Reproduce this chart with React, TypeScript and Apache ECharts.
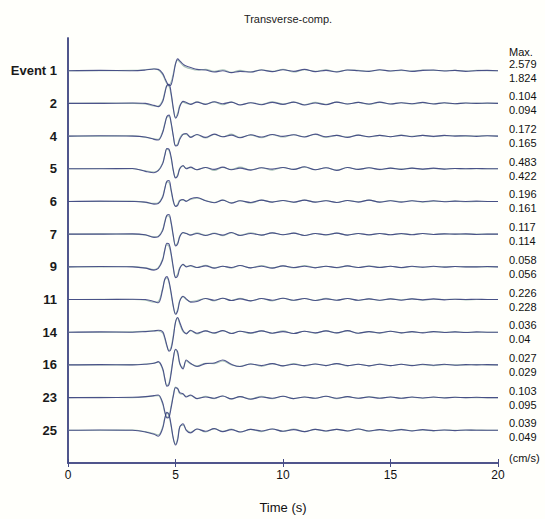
import React, { useEffect, useRef } from "react";
import * as echarts from "echarts";

// time samples (s)
const T = [0, 1.5, 3, 3.6, 4.0, 4.2, 4.4, 4.5, 4.6, 4.7, 4.8, 4.9, 5.0, 5.1, 5.2, 5.35, 5.5, 5.7, 6.0, 6.4, 6.8, 7.2, 7.6, 8.0, 8.5, 9.0, 9.5, 10, 10.5, 11, 11.5, 12, 12.5, 13, 13.5, 14, 14.5, 15, 15.5, 16, 16.5, 17, 17.5, 18, 18.5, 19, 19.5, 20];

const eventLabels = ["Event 1", "2", "4", "5", "6", "7", "9", "11", "14", "16", "23", "25"];
const maxObs = ["2.579", "0.104", "0.172", "0.483", "0.196", "0.117", "0.058", "0.226", "0.036", "0.027", "0.103", "0.039"];
const maxSyn = ["1.824", "0.094", "0.165", "0.422", "0.161", "0.114", "0.056", "0.228", "0.04", "0.029", "0.095", "0.049"];
const xTicks = [0, 5, 10, 15, 20];

// normalized observed traces (1 = trace spacing)
const obs1 = [0, 0.01, 0, 0.02, 0.05, 0.04, -0.08, -0.22, -0.36, -0.46, -0.42, -0.15, 0.2, 0.36, 0.3, 0.2, 0.14, 0.1, 0.04, 0.02, -0.04, 0.0, -0.06, -0.02, -0.04, 0.02, -0.03, 0.03, -0.02, 0.04, -0.03, 0.01, -0.04, 0.02, 0.0, -0.02, 0.03, -0.01, 0.02, -0.02, 0.01, 0.02, -0.01, 0.01, -0.02, 0.0, 0.01, 0.0];
const obs2 = [0, 0, 0.01, 0, -0.06, -0.1, 0.05, 0.3, 0.55, 0.58, 0.3, -0.15, -0.45, -0.36, -0.1, 0.06, 0.03, -0.03, 0.04, -0.03, 0.05, -0.01, 0.04, -0.05, 0.02, -0.04, 0.03, -0.03, 0.04, -0.05, 0.01, -0.04, 0.04, -0.02, 0.03, -0.02, 0.04, -0.02, 0.02, -0.01, 0.03, -0.02, 0.02, -0.01, 0.01, 0.0, 0.01, 0];
const obs4 = [0, 0.01, 0, -0.03, -0.1, -0.12, 0.1, 0.35, 0.6, 0.64, 0.4, 0.0, -0.3, -0.28, -0.1, 0.05, 0.08, -0.04, 0.05, -0.04, 0.06, -0.02, 0.03, -0.05, 0.04, -0.03, 0.05, -0.01, 0.04, -0.03, 0.06, -0.02, 0.02, -0.04, 0.03, -0.02, 0.02, -0.02, 0.02, -0.02, 0.02, -0.01, 0.02, 0.0, 0.01, -0.01, 0.01, 0];
const obs5 = [0, 0, 0.01, -0.08, -0.12, -0.06, 0.15, 0.4, 0.62, 0.6, 0.35, -0.05, -0.28, -0.22, 0.0, 0.1, 0.0, 0.05, -0.03, 0.04, -0.02, 0.05, -0.03, 0.02, -0.04, 0.03, -0.01, 0.04, -0.02, 0.06, -0.03, 0.03, -0.05, 0.04, -0.02, 0.03, -0.02, 0.02, -0.02, 0.02, -0.01, 0.02, -0.01, 0.01, 0.0, 0.01, 0, 0];
const obs6 = [0, 0.01, 0.0, -0.02, -0.08, -0.06, 0.12, 0.38, 0.62, 0.64, 0.35, 0.02, -0.15, -0.12, 0.02, 0.06, 0.0, 0.08, 0.12, 0.02, -0.04, 0.04, -0.05, 0.02, -0.03, 0.04, -0.02, 0.03, -0.02, 0.04, -0.02, 0.02, -0.03, 0.03, -0.02, 0.04, -0.02, 0.02, -0.02, 0.02, -0.01, 0.02, -0.01, 0.01, 0.0, 0.01, 0, 0];
const obs7 = [0, 0, 0.01, -0.02, -0.1, -0.08, 0.1, 0.35, 0.58, 0.6, 0.35, -0.05, -0.36, -0.3, -0.08, 0.05, 0.02, -0.03, 0.02, -0.04, 0.02, -0.03, 0.05, -0.04, 0.02, -0.03, 0.04, -0.02, 0.03, -0.04, 0.02, -0.02, 0.03, -0.03, 0.02, -0.02, 0.02, -0.02, 0.02, -0.02, 0.02, -0.01, 0.01, 0, 0.01, -0.01, 0, 0];
const obs9 = [0, 0.01, 0, -0.04, -0.1, -0.05, 0.2, 0.5, 0.72, 0.7, 0.4, -0.02, -0.33, -0.28, -0.05, 0.08, 0.0, 0.04, -0.02, 0.03, -0.04, 0.02, -0.02, 0.04, -0.03, 0.02, -0.04, 0.03, -0.02, 0.02, -0.03, 0.02, -0.02, 0.03, -0.02, 0.02, -0.02, 0.02, -0.02, 0.02, -0.01, 0.02, -0.01, 0.01, 0, 0, 0.01, 0];
const obs11 = [0, 0, 0.01, 0.0, -0.06, -0.1, 0.3, 0.62, 0.7, 0.55, 0.2, -0.2, -0.45, -0.35, -0.05, 0.1, 0.02, -0.08, -0.06, 0.03, -0.02, 0.04, -0.03, 0.02, -0.04, 0.03, -0.02, 0.04, -0.02, 0.03, -0.03, 0.02, -0.02, 0.03, -0.02, 0.02, -0.02, 0.02, -0.02, 0.02, -0.01, 0.02, -0.01, 0.01, 0, 0.01, 0, 0];
const obs14 = [0, 0.01, 0, 0.02, 0.04, 0.06, 0.02, -0.15, -0.4, -0.58, -0.5, -0.15, 0.3, 0.45, 0.3, 0.05, -0.05, 0.06, -0.03, 0.04, -0.02, 0.05, -0.04, 0.03, -0.02, 0.04, -0.03, 0.02, -0.04, 0.03, -0.02, 0.04, -0.02, 0.05, -0.03, 0.02, -0.02, 0.03, -0.02, 0.02, -0.02, 0.02, -0.01, 0.01, -0.01, 0.01, 0, 0];
const obs16 = [0, 0.01, 0, 0.02, 0.05, 0.1, -0.1, -0.4, -0.65, -0.6, -0.25, 0.2, 0.48, 0.4, 0.05, -0.12, 0.15, 0.05, -0.05, 0.04, 0.06, 0.15, 0.02, -0.05, 0.03, -0.02, 0.04, -0.03, 0.02, -0.02, 0.03, -0.02, 0.04, -0.02, 0.02, -0.03, 0.02, -0.02, 0.02, -0.02, 0.02, -0.01, 0.02, -0.01, 0.01, 0, 0.01, 0];
const obs23 = [0, 0, 0.01, 0.03, 0.06, 0.08, -0.15, -0.42, -0.62, -0.6, -0.3, 0.05, 0.3, 0.28, 0.15, 0.12, 0.02, 0.08, -0.03, 0.02, -0.02, 0.05, -0.04, 0.03, -0.05, 0.02, -0.02, 0.04, -0.03, 0.02, -0.02, 0.04, -0.02, 0.03, -0.02, 0.02, -0.02, 0.02, -0.02, 0.02, -0.01, 0.02, -0.01, 0.01, 0, 0.01, 0, 0];
const obs25 = [0, 0.01, 0, -0.05, -0.12, -0.18, 0.05, 0.35, 0.55, 0.48, 0.15, -0.25, -0.45, -0.3, 0.1, 0.2, 0.0, -0.08, 0.04, -0.03, 0.05, -0.04, 0.02, -0.05, 0.03, -0.02, 0.04, -0.03, 0.02, -0.04, 0.03, -0.02, 0.03, -0.02, 0.04, -0.02, 0.02, -0.02, 0.02, -0.02, 0.02, -0.01, 0.01, -0.01, 0.01, 0, 0, 0];

// normalized synthetic traces
const syn1 = [0, 0, 0.01, 0.03, 0.06, 0.02, -0.12, -0.26, -0.4, -0.44, -0.34, -0.08, 0.22, 0.32, 0.26, 0.16, 0.1, 0.06, 0.02, 0.04, -0.02, 0.03, -0.05, 0.01, -0.04, 0.03, -0.02, 0.04, -0.04, 0.03, -0.02, 0.03, -0.03, 0.02, 0.01, -0.02, 0.02, -0.01, 0.01, -0.01, 0.02, 0.01, 0, 0.01, -0.01, 0.01, 0, 0];
const syn2 = [0, 0.01, 0, -0.02, -0.08, -0.08, 0.1, 0.34, 0.54, 0.52, 0.24, -0.18, -0.42, -0.3, -0.06, 0.04, 0.0, -0.02, 0.05, -0.02, 0.04, -0.04, 0.04, -0.04, 0.02, -0.03, 0.05, -0.02, 0.04, -0.04, 0.03, -0.03, 0.04, -0.02, 0.03, -0.03, 0.03, -0.02, 0.02, -0.02, 0.02, -0.01, 0.01, -0.01, 0.01, 0, 0, 0];
const syn4 = [0, 0, 0.01, -0.04, -0.08, -0.1, 0.14, 0.38, 0.58, 0.6, 0.36, -0.02, -0.28, -0.24, -0.06, 0.06, 0.05, -0.02, 0.04, -0.06, 0.05, -0.02, 0.06, -0.04, 0.03, -0.05, 0.04, -0.03, 0.04, -0.02, 0.05, -0.04, 0.02, -0.03, 0.03, -0.03, 0.02, -0.02, 0.03, -0.01, 0.02, -0.02, 0.01, 0.01, 0, 0, 0.01, 0];
const syn5 = [0, 0.01, 0, -0.06, -0.1, -0.04, 0.18, 0.42, 0.6, 0.56, 0.3, -0.08, -0.26, -0.18, 0.02, 0.08, 0.02, 0.03, -0.03, 0.04, -0.05, 0.04, -0.02, 0.05, -0.03, 0.03, -0.04, 0.04, -0.02, 0.05, -0.03, 0.03, -0.04, 0.04, -0.02, 0.03, -0.03, 0.02, -0.01, 0.02, -0.02, 0.01, -0.01, 0.01, 0, 0, 0, 0];
const syn6 = [0, 0, 0.01, -0.03, -0.06, -0.04, 0.16, 0.4, 0.6, 0.58, 0.3, -0.02, -0.14, -0.08, 0.04, 0.04, 0.02, 0.06, 0.1, 0.03, -0.03, 0.04, -0.04, 0.02, -0.05, 0.04, -0.02, 0.03, -0.03, 0.04, -0.02, 0.03, -0.03, 0.03, -0.01, 0.04, -0.02, 0.03, -0.01, 0.02, -0.02, 0.01, 0, 0.01, -0.01, 0, 0, 0];
const syn7 = [0, 0.01, 0, -0.03, -0.08, -0.06, 0.14, 0.38, 0.56, 0.55, 0.3, -0.08, -0.32, -0.26, -0.05, 0.04, 0.03, -0.02, 0.04, -0.03, 0.03, -0.05, 0.04, -0.03, 0.04, -0.03, 0.04, -0.02, 0.03, -0.04, 0.02, -0.03, 0.03, -0.03, 0.02, -0.03, 0.02, -0.02, 0.01, -0.01, 0.02, -0.01, 0.01, 0, 0, 0, 0, 0];
const syn9 = [0, 0, 0.01, -0.03, -0.08, -0.02, 0.24, 0.52, 0.68, 0.62, 0.34, -0.06, -0.3, -0.22, -0.02, 0.06, 0.02, 0.02, -0.02, 0.05, -0.03, 0.02, -0.04, 0.04, -0.03, 0.04, -0.03, 0.03, -0.03, 0.04, -0.02, 0.02, -0.03, 0.03, -0.02, 0.03, -0.01, 0.02, -0.03, 0.01, -0.02, 0.01, 0, 0.01, 0, 0, 0, 0];
const syn11 = [0, 0.01, 0, -0.02, -0.08, -0.06, 0.34, 0.6, 0.66, 0.5, 0.14, -0.24, -0.42, -0.3, -0.02, 0.08, 0.0, -0.06, -0.03, 0.03, -0.04, 0.04, -0.03, 0.04, -0.04, 0.03, -0.04, 0.04, -0.03, 0.03, -0.03, 0.04, -0.02, 0.03, -0.03, 0.02, -0.03, 0.02, -0.01, 0.02, -0.02, 0.01, 0, 0.01, -0.01, 0, 0, 0];
const syn14 = [0, 0, 0.01, 0.03, 0.05, 0.04, -0.02, -0.2, -0.44, -0.56, -0.44, -0.08, 0.32, 0.42, 0.24, 0.02, -0.03, 0.04, -0.05, 0.04, -0.04, 0.05, -0.03, 0.03, -0.04, 0.04, -0.03, 0.04, -0.04, 0.03, -0.03, 0.04, -0.02, 0.04, -0.03, 0.02, -0.03, 0.03, -0.02, 0.01, -0.01, 0.02, 0, 0.01, 0, 0, 0, 0];
const syn16 = [0, 0, 0.01, 0.03, 0.06, 0.08, -0.14, -0.44, -0.62, -0.54, -0.18, 0.24, 0.46, 0.34, 0.02, -0.08, 0.12, 0.03, -0.03, 0.05, 0.04, 0.12, 0.0, -0.04, 0.03, -0.04, 0.04, -0.03, 0.04, -0.03, 0.03, -0.02, 0.04, -0.03, 0.02, -0.03, 0.03, -0.02, 0.02, -0.01, 0.01, -0.02, 0.01, 0, 0, 0.01, 0, 0];
const syn23 = [0, 0.01, 0, 0.02, 0.05, 0.06, -0.2, -0.46, -0.6, -0.54, -0.24, 0.1, 0.32, 0.26, 0.12, 0.1, 0.04, 0.06, -0.03, 0.04, -0.03, 0.05, -0.04, 0.03, -0.04, 0.04, -0.03, 0.04, -0.03, 0.02, -0.02, 0.04, -0.03, 0.03, -0.02, 0.03, -0.01, 0.02, -0.02, 0.01, -0.02, 0.01, 0, 0.01, 0, 0, 0, 0];
const syn25 = [0, 0, 0.01, -0.04, -0.1, -0.14, 0.1, 0.38, 0.52, 0.42, 0.1, -0.28, -0.42, -0.24, 0.12, 0.16, 0.02, -0.06, 0.04, -0.05, 0.05, -0.03, 0.04, -0.05, 0.03, -0.04, 0.04, -0.03, 0.04, -0.04, 0.03, -0.03, 0.03, -0.02, 0.04, -0.03, 0.02, -0.02, 0.03, -0.01, 0.01, -0.02, 0.01, 0, 0, 0.01, 0, 0];

const observed = [obs1, obs2, obs4, obs5, obs6, obs7, obs9, obs11, obs14, obs16, obs23, obs25];
const synthetic = [syn1, syn2, syn4, syn5, syn6, syn7, syn9, syn11, syn14, syn16, syn23, syn25];

const N = eventLabels.length;
const FONT = "'Liberation Sans', Arial, sans-serif";
const FRAME = "#454b85";

export default function App() {
  const ref = useRef<HTMLDivElement>(null);
  useEffect(() => {
    if (!ref.current) return;
    const chart = echarts.init(ref.current, null, { renderer: "svg" });
    const series: any[] = [];
    for (let k = 0; k < N; k++) {
      const base = N - k;
      series.push({
        type: "line",
        data: T.map((t, i) => [t, base + synthetic[k][i]]),
        showSymbol: false,
        smooth: 0.35,
        lineStyle: { color: "#a8c2b8", width: 1.1 },
        silent: true,
      });
    }
    for (let k = 0; k < N; k++) {
      const base = N - k;
      series.push({
        type: "line",
        data: T.map((t, i) => [t, base + observed[k][i]]),
        showSymbol: false,
        smooth: 0.35,
        lineStyle: { color: "#363c7c", width: 1.1, opacity: 0.85 },
        silent: true,
      });
    }
    const labelFor = (v: number) => {
      const k = N - Math.round(v);
      return v >= 1 && v <= N ? k : -1;
    };
    chart.setOption({
      animation: false,
      backgroundColor: "#fffffb",
      title: {
        text: "Transverse-comp.",
        left: 283,
        top: 8,
        textAlign: "center",
        textStyle: { fontFamily: FONT, fontSize: 11, fontWeight: "normal", color: "#222" },
      },
      grid: { left: 68, right: 47, top: 38, bottom: 52 },
      xAxis: [
        {
          type: "value",
          min: 0,
          max: 20,
          interval: 5,
          position: "bottom",
          name: "Time (s)",
          nameLocation: "middle",
          nameGap: 38,
          nameTextStyle: { fontFamily: FONT, fontSize: 13, color: "#111" },
          axisLine: { show: true, lineStyle: { color: FRAME, width: 1.5 } },
          axisTick: { show: true, inside: true, length: 4, lineStyle: { color: FRAME } },
          axisLabel: { fontFamily: FONT, fontSize: 12, color: "#111", margin: 6, customValues: xTicks },
          splitLine: { show: false },
        },
        {
          type: "value",
          min: 0,
          max: 20,
          interval: 5,
          position: "top",
          axisLine: { show: true, lineStyle: { color: FRAME, width: 1.5 } },
          axisTick: { show: true, inside: true, length: 4, lineStyle: { color: FRAME } },
          axisLabel: { show: false },
          splitLine: { show: false },
        },
      ],
      yAxis: [
        {
          type: "value",
          min: 0,
          max: N + 1,
          interval: 1,
          position: "left",
          axisLine: { show: true, lineStyle: { color: FRAME, width: 1.5 } },
          axisTick: { show: false },
          splitLine: { show: false },
          axisLabel: {
            fontFamily: FONT,
            fontSize: 13,
            fontWeight: "bold",
            color: "#1a1a1a",
            margin: 11,
            formatter: (v: number) => {
              const k = labelFor(v);
              return k >= 0 ? eventLabels[k] : "";
            },
          },
        },
        {
          type: "value",
          min: 0,
          max: N + 1,
          interval: 1,
          position: "right",
          axisLine: { show: true, lineStyle: { color: FRAME, width: 1.5 } },
          axisTick: { show: false },
          splitLine: { show: false },
          axisLabel: {
            fontFamily: FONT,
            fontSize: 11,
            color: "#111",
            margin: 11,
            lineHeight: 14,
            padding: [4, 0, 0, 0],
            formatter: (v: number) => {
              const k = labelFor(v);
              return k >= 0 ? maxObs[k] + "\n" + maxSyn[k] : "";
            },
          },
        },
      ],
      graphic: [
        { type: "text", left: 509, top: 46, style: { text: "Max.", font: `11px ${FONT}`, fill: "#111" } },
        { type: "text", left: 509, top: 452, style: { text: "(cm/s)", font: `11px ${FONT}`, fill: "#111" } },
      ],
      series,
    });
    return () => chart.dispose();
  }, []);
  return <div ref={ref} style={{ position: "fixed", left: 0, top: 0, width: 545, height: 519 }} />;
}
